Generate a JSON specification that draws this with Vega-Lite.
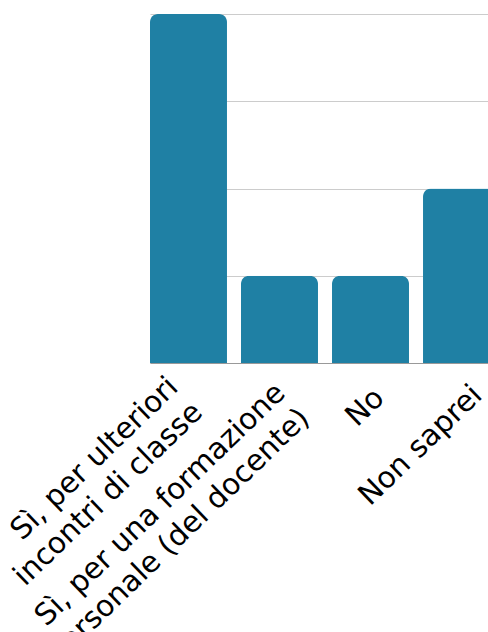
{
  "$schema": "https://vega.github.io/schema/vega-lite/v6.json",
  "autosize": "none",
  "width": 338,
  "height": 349,
  "padding": {"left": 150, "top": 14, "right": 0, "bottom": 269},
  "background": "white",
  "config": {"view": {"stroke": null}},
  "data": {
    "values": [
      {"risposta": "Sì, per ulteriori|incontri di classe", "n": 4},
      {"risposta": "Sì, per una formazione|personale (del docente)", "n": 1},
      {"risposta": "No", "n": 1},
      {"risposta": "Non saprei", "n": 2}
    ]
  },
  "mark": {"type": "bar", "color": "#1f80a4", "cornerRadiusTopLeft": 8, "cornerRadiusTopRight": 8},
  "encoding": {
    "x": {
      "field": "risposta",
      "type": "nominal",
      "sort": null,
      "scale": {"range": [0, 350], "paddingInner": 0.154, "paddingOuter": 0},
      "axis": {
        "title": null,
        "labelAngle": -44,
        "labelAlign": "right",
        "labelBaseline": "middle",
        "labelFontSize": 29.5,
        "labelFont": "DejaVu Sans",
        "labelColor": "#000000",
        "labelLimit": 0,
        "labelPadding": {
          "condition": [
            {"test": "indexof(datum.value, 'ulteriori') >= 0", "value": 19},
            {"test": "indexof(datum.value, 'formazione') >= 0", "value": 25},
            {"test": "datum.value == 'No'", "value": 30}
          ],
          "value": 27
        },
        "labelOffset": {
          "condition": [
            {"test": "indexof(datum.value, 'ulteriori') >= 0", "value": -15},
            {"test": "indexof(datum.value, 'formazione') >= 0", "value": 1},
            {"test": "datum.value == 'No'", "value": 9}
          ],
          "value": 16
        },
        "labelLineHeight": 35,
        "labelExpr": "split(datum.label, '|')",
        "ticks": false,
        "domainColor": "#999999",
        "grid": false
      }
    },
    "y": {
      "field": "n",
      "type": "quantitative",
      "scale": {"domain": [0, 4]},
      "axis": {
        "title": null,
        "labels": false,
        "ticks": false,
        "domain": false,
        "tickCount": 4,
        "gridColor": "#cccccc"
      }
    }
  }
}
